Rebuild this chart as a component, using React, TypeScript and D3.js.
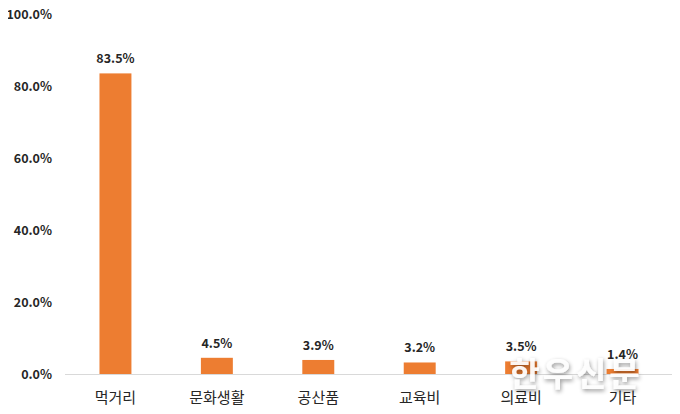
import * as d3 from "d3";
import { useEffect, useRef } from "react";

const categories = ["먹거리", "문화생활", "공산품", "교육비", "의료비", "기타"];
const values = [83.5, 4.5, 3.9, 3.2, 3.5, 1.4];
const yTicks = [0, 20, 40, 60, 80, 100];

const W = 680;
const H = 414;
const BAR_COLOR = "#ed7d31";
const FONT = "'Noto Sans CJK KR', 'Noto Sans', sans-serif";

export default function App() {
  const ref = useRef<SVGSVGElement>(null);

  useEffect(() => {
    if (!ref.current) return;
    const svg = d3.select(ref.current);
    svg.selectAll("*").remove();

    const margin = { top: 14, right: 7, bottom: 40, left: 65 };
    const innerW = W - margin.left - margin.right;
    const innerH = H - margin.top - margin.bottom;

    const x = d3.scaleBand().domain(categories).range([0, innerW]).paddingInner(0.685).paddingOuter(0.34);
    const y = d3.scaleLinear().domain([0, 100]).range([innerH, 0]);

    const g = svg.append("g").attr("transform", `translate(${margin.left},${margin.top})`);

    // y tick labels (no axis line, no gridlines)
    g.selectAll("text.ytick")
      .data(yTicks)
      .join("text")
      .attr("class", "ytick")
      .attr("x", -13)
      .attr("y", (d) => y(d))
      .attr("dy", "0.36em")
      .attr("text-anchor", "end")
      .style("font-family", FONT)
      .style("font-size", "12.5px")
      .style("font-weight", 700)
      .attr("fill", "#262626")
      .text((d) => d.toFixed(1) + "%");

    g.selectAll("rect.bar")
      .data(values)
      .join("rect")
      .attr("class", "bar")
      .attr("x", (_, i) => x(categories[i]) ?? 0)
      .attr("y", (d) => y(d))
      .attr("width", x.bandwidth())
      .attr("height", (d) => innerH - y(d))
      .attr("fill", BAR_COLOR);

    g.append("line")
      .attr("x1", 0)
      .attr("x2", innerW)
      .attr("y1", innerH + 0.5)
      .attr("y2", innerH + 0.5)
      .attr("stroke", "#d9d9d9")
      .attr("stroke-width", 1.2);

    g.selectAll("text.val")
      .data(values)
      .join("text")
      .attr("class", "val")
      .attr("x", (_, i) => (x(categories[i]) ?? 0) + x.bandwidth() / 2)
      .attr("y", (d) => y(d) - 10)
      .attr("text-anchor", "middle")
      .style("font-family", FONT)
      .style("font-size", "12.5px")
      .style("font-weight", 700)
      .attr("fill", "#262626")
      .text((d) => d.toFixed(1) + "%");

    g.selectAll("text.cat")
      .data(categories)
      .join("text")
      .attr("class", "cat")
      .attr("x", (d) => (x(d) ?? 0) + x.bandwidth() / 2)
      .attr("y", innerH + 24)
      .attr("dy", "0.36em")
      .attr("text-anchor", "middle")
      .style("font-family", FONT)
      .style("font-size", "15px")
      .attr("fill", "#262626")
      .text((d) => d);

    // watermark
    const defs = svg.append("defs");
    const f = defs.append("filter").attr("id", "wm").attr("x", "-20%").attr("y", "-20%").attr("width", "140%").attr("height", "140%");
    f.append("feDropShadow").attr("dx", 1).attr("dy", 2).attr("stdDeviation", 2).attr("flood-color", "#000").attr("flood-opacity", 0.45);
    svg.append("text")
      .attr("x", 576)
      .attr("y", 374)
      .attr("dy", "0.36em")
      .attr("text-anchor", "middle")
      .attr("filter", "url(#wm)")
      .style("font-family", FONT)
      .style("font-size", "33px")
      .style("font-weight", 700)
      .style("letter-spacing", "3px")
      .attr("fill", "#ffffff")
      .attr("fill-opacity", 0.92)
      .text("한우신문");
  }, []);

  return (
    <div style={{ margin: -8 }}>
      <svg ref={ref} width={W} height={H} style={{ display: "block", background: "#fff" }} />
    </div>
  );
}
